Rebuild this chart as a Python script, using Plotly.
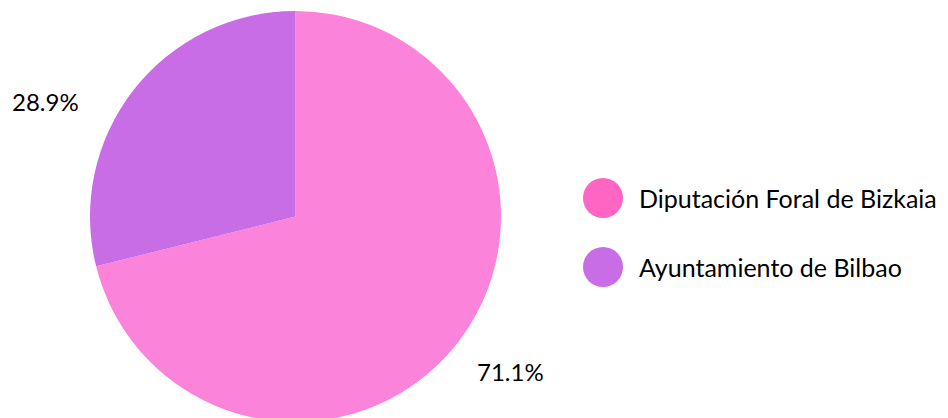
import plotly.graph_objects as go

labels = ["Diputación Foral de Bizkaia", "Ayuntamiento de Bilbao"]
values = [71.1, 28.9]
slice_colors = ["#FC83DA", "#C86DE6"]
legend_colors = ["#FF66C4", "#C86DE6"]

W, H = 948, 418
FONT = "Lato"

total = sum(values)
pcts = [f"{v / total * 100:.1f}%" for v in values]

# the page body adds an 8px offset; work in figure coordinates
OFF = 8

def px(x):
    return (x - OFF) / W

def py(y):
    return 1 - (y - OFF) / H

# pie: centre (295.5, 216.5), radius 205.5 in window pixels
cx, cy, r = 295.5, 216.5, 205.5

fig = go.Figure()
fig.add_trace(go.Pie(
    labels=labels,
    values=values,
    sort=False,
    direction="clockwise",
    rotation=0,
    textinfo="none",
    hoverinfo="label+percent",
    showlegend=False,
    marker=dict(colors=slice_colors, line=dict(width=0)),
    domain=dict(x=[px(cx - r), px(cx + r)], y=[py(cy + r), py(cy - r)]),
))

# percent labels
label_pos = [(510, 371), (45, 102)]
annotations = []
for (x, y), t in zip(label_pos, pcts):
    annotations.append(dict(
        x=px(x), y=py(y), xref="paper", yref="paper", text=t, showarrow=False,
        xanchor="center", yanchor="middle",
        font=dict(family=FONT, size=24, color="#000000"),
    ))

# legend
shapes = []
legend_y = [198, 267]
for name, c, y in zip(labels, legend_colors, legend_y):
    shapes.append(dict(
        type="circle", xref="paper", yref="paper",
        x0=px(583), x1=px(623), y0=py(y + 20), y1=py(y - 20),
        fillcolor=c, line=dict(width=0),
    ))
    annotations.append(dict(
        x=px(637), y=py(y), xref="paper", yref="paper", text=name, showarrow=False,
        xanchor="left", yanchor="middle",
        font=dict(family=FONT, size=25, color="#000000"),
    ))

fig.update_layout(
    width=W, height=H,
    margin=dict(l=0, r=0, t=0, b=0),
    paper_bgcolor="white", plot_bgcolor="white",
    shapes=shapes, annotations=annotations,
    showlegend=False,
)

fig.write_html("out.html")
